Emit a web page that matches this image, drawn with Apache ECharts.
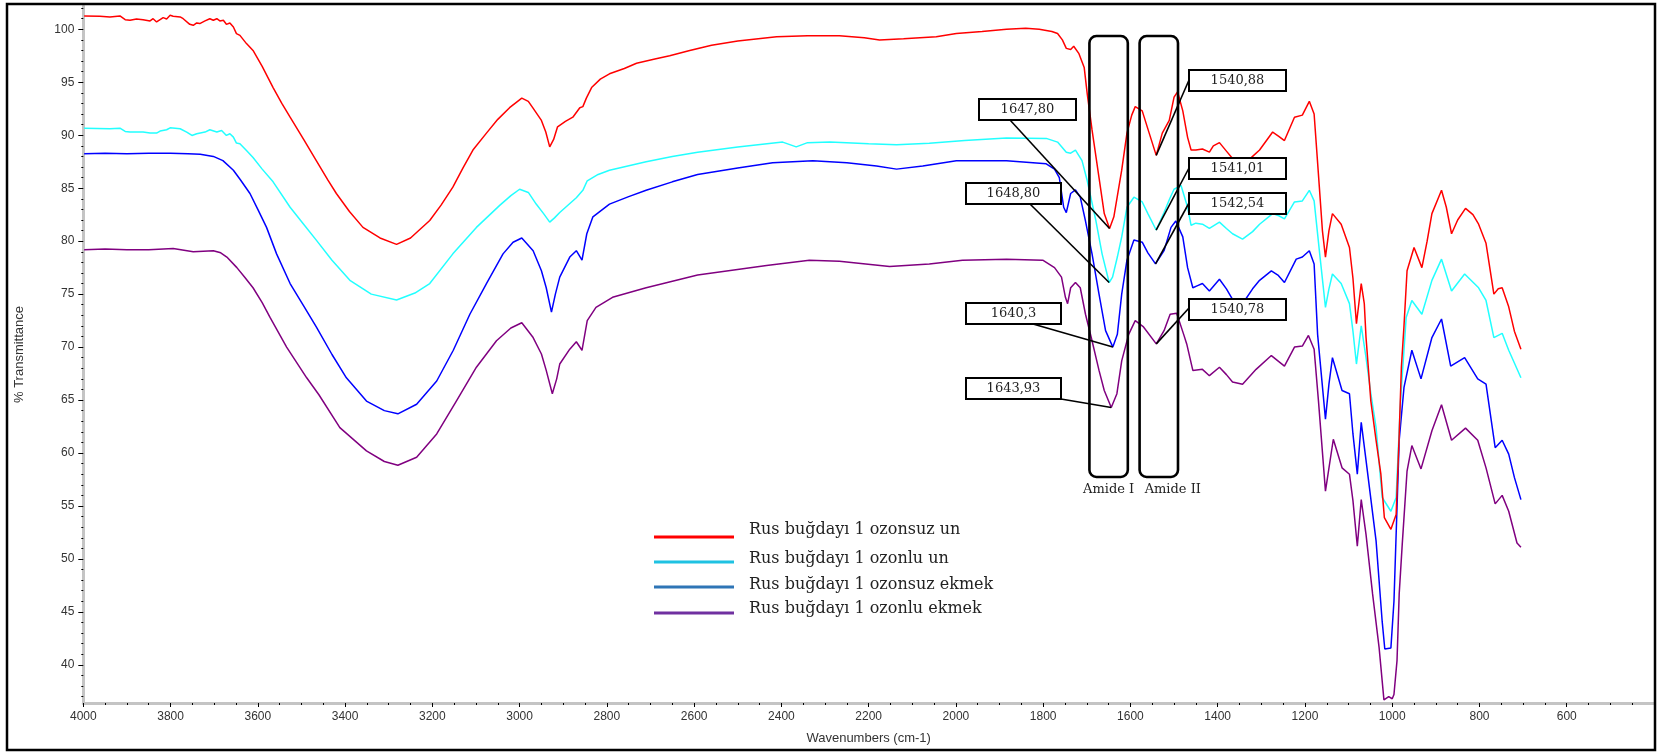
<!DOCTYPE html>
<html>
<head>
<meta charset="utf-8">
<script src="https://cdn.jsdelivr.net/npm/echarts@6/dist/echarts.min.js"></script>
<style>
  html, body { margin: 0; padding: 0; background: #fff; }
  #chart { width: 1657px; height: 753px; }
</style>
</head>
<body>
<div id="chart"></div>
<script>
// FTIR spectra: [wavenumber (cm-1), % transmittance]
const seriesNames = [
  'Rus buğdayı 1 ozonsuz un',
  'Rus buğdayı 1 ozonlu un',
  'Rus buğdayı 1 ozonsuz ekmek',
  'Rus buğdayı 1 ozonlu ekmek'
];

const ozonsuzUn = [
  [3998,101.26],[3962,101.23],[3939,101.17],[3916,101.26],[3904,100.91],[3893,100.85],[3878,100.98],[3863,100.91],
  [3847,100.79],[3840,101.0],[3832,100.69],[3824,100.91],[3817,101.1],[3809,100.98],[3801,101.32],[3794,101.23],
  [3778,101.17],[3771,101.0],[3756,100.47],[3748,100.38],[3740,100.6],[3733,100.54],[3721,100.79],[3710,101.0],
  [3702,100.85],[3694,101.0],[3687,100.79],[3679,100.85],[3672,100.47],[3664,100.6],[3656,100.22],[3649,99.59],
  [3641,99.43],[3626,98.65],[3611,98.0],[3590,96.5],[3565,94.5],[3545,93.0],[3526,91.7],[3495,89.6],[3466,87.6],
  [3440,85.8],[3420,84.5],[3390,82.8],[3359,81.3],[3320,80.3],[3282,79.7],[3250,80.3],[3206,81.95],[3180,83.4],
  [3153,85.1],[3130,86.9],[3107,88.6],[3076,90.2],[3050,91.5],[3023,92.6],[2995,93.5],[2980,93.2],[2970,92.6],
  [2950,91.4],[2940,90.3],[2931,88.9],[2922,89.6],[2913,90.8],[2895,91.3],[2878,91.7],[2862,92.6],[2855,92.7],
  [2847,93.5],[2835,94.5],[2815,95.3],[2794,95.8],[2760,96.3],[2732,96.8],[2690,97.2],[2656,97.5],[2610,98.0],
  [2560,98.5],[2500,98.9],[2411,99.3],[2340,99.4],[2267,99.4],[2210,99.2],[2175,99.0],[2120,99.1],[2045,99.3],
  [1999,99.6],[1940,99.8],[1884,100.0],[1840,100.1],[1809,100.0],[1780,99.8],[1767,99.6],[1756,99.0],[1747,98.2],
  [1737,98.1],[1730,98.4],[1718,97.7],[1706,96.4],[1699,93.9],[1688,90.5],[1672,86.0],[1660,82.6],[1647.80,81.2],
  [1638,82.3],[1620,86.7],[1608,90.2],[1597,91.9],[1589,92.7],[1573,92.3],[1557,90.2],[1540.88,88.1],[1527,90.2],
  [1511,91.4],[1500,93.6],[1492,94.1],[1480,92.3],[1469,89.8],[1461,88.6],[1450,88.6],[1435,88.7],[1419,88.4],
  [1410,89.0],[1396,89.3],[1380,88.5],[1366,87.8],[1343,87.1],[1320,88.0],[1304,88.6],[1274,90.3],[1260,89.9],
  [1247,89.5],[1224,91.7],[1206,91.9],[1190,93.2],[1179,92.0],[1167,85.1],[1160,81.0],[1153,78.5],[1145,81.0],
  [1137,82.6],[1117,81.6],[1098,79.4],[1090,76.5],[1082,72.2],[1071,76.0],[1064,74.1],[1060,70.9],[1049,64.9],
  [1037,61.2],[1026,58.0],[1018,53.9],[1003,52.8],[991,54.2],[984,61.8],[979,68.1],[973,72.0],[966,77.2],
  [950,79.4],[932,77.5],[920,80.0],[909,82.6],[887,84.8],[876,83.2],[864,80.7],[850,82.0],[832,83.1],[815,82.5],
  [802,81.6],[785,79.8],[767,75.0],[757,75.5],[748,75.6],[733,73.8],[720,71.5],[705,69.8]
];

const ozonluUn = [
  [3998,90.67],[3939,90.61],[3916,90.67],[3904,90.36],[3893,90.3],[3863,90.3],[3847,90.2],[3832,90.2],[3824,90.39],
  [3809,90.52],[3801,90.7],[3778,90.61],[3763,90.3],[3751,89.98],[3740,90.14],[3721,90.3],[3710,90.52],[3694,90.3],
  [3683,90.45],[3672,89.98],[3664,90.14],[3656,89.82],[3649,89.26],[3641,89.2],[3626,88.56],[3611,87.9],[3590,86.8],
  [3565,85.6],[3526,83.2],[3495,81.6],[3466,80.1],[3430,78.2],[3389,76.3],[3340,75.0],[3282,74.45],[3240,75.1],
  [3206,76.0],[3153,78.8],[3099,81.3],[3045,83.4],[3020,84.3],[3000,84.9],[2980,84.6],[2962,83.5],[2945,82.6],
  [2931,81.8],[2920,82.2],[2908,82.7],[2870,84.1],[2855,84.8],[2845,85.7],[2820,86.3],[2794,86.7],[2710,87.5],
  [2650,88.0],[2592,88.4],[2500,88.9],[2397,89.35],[2366,88.9],[2340,89.3],[2289,89.35],[2200,89.2],[2136,89.1],
  [2061,89.25],[1980,89.5],[1884,89.75],[1793,89.7],[1767,89.35],[1747,88.4],[1737,88.3],[1726,88.6],[1711,87.6],
  [1699,85.7],[1679,81.9],[1665,78.8],[1648.80,76.1],[1641,76.6],[1630,78.5],[1620,80.4],[1608,83.2],[1592,84.15],
  [1573,83.7],[1560,82.6],[1541.01,81.05],[1523,82.7],[1510,84.0],[1500,84.9],[1484,85.25],[1469,83.2],[1461,81.5],
  [1450,81.7],[1435,81.6],[1419,81.2],[1396,81.8],[1380,81.2],[1366,80.7],[1343,80.2],[1320,80.9],[1304,81.6],
  [1274,82.6],[1260,82.4],[1247,82.1],[1224,83.7],[1206,83.8],[1190,84.8],[1179,83.8],[1167,79.1],[1153,73.75],
  [1145,75.5],[1137,76.9],[1117,76.0],[1098,74.1],[1090,71.5],[1082,68.4],[1071,72.0],[1060,69.0],[1049,65.6],
  [1037,62.4],[1023,55.8],[1003,54.5],[991,55.8],[981,64.9],[968,72.8],[955,74.4],[932,73.1],[909,76.3],[887,78.3],
  [864,75.3],[834,76.9],[802,75.6],[785,74.4],[767,70.9],[748,71.3],[733,69.7],[720,68.5],[705,67.1]
];

const ozonsuzEkmek = [
  [3998,88.25],[3950,88.3],[3900,88.25],[3850,88.3],[3800,88.3],[3760,88.25],[3732,88.2],[3702,88.0],[3680,87.6],
  [3656,86.7],[3640,85.8],[3618,84.5],[3600,83.0],[3580,81.3],[3557,78.8],[3526,76.0],[3495,73.9],[3466,71.9],
  [3430,69.3],[3397,67.1],[3351,64.9],[3310,64.0],[3279,63.7],[3236,64.6],[3190,66.8],[3152,69.7],[3114,73.1],
  [3076,76.0],[3038,78.8],[3015,79.9],[2995,80.3],[2969,79.1],[2950,77.2],[2939,75.6],[2927,73.3],[2918,75.0],
  [2908,76.6],[2885,78.5],[2870,79.1],[2857,78.2],[2846,80.7],[2832,82.3],[2794,83.5],[2750,84.2],[2710,84.8],
  [2650,85.6],[2592,86.3],[2500,86.9],[2420,87.4],[2328,87.6],[2250,87.4],[2182,87.1],[2136,86.8],[2076,87.1],
  [1999,87.6],[1884,87.6],[1793,87.3],[1774,86.8],[1763,86.0],[1753,83.2],[1747,82.7],[1737,84.5],[1726,84.85],
  [1715,84.15],[1703,81.9],[1688,78.8],[1672,75.0],[1657,71.55],[1640.3,70.0],[1630,71.2],[1620,75.0],[1608,78.2],
  [1592,80.1],[1573,79.9],[1560,78.9],[1542.54,77.85],[1523,79.1],[1507,81.3],[1496,81.9],[1480,80.4],[1469,77.5],
  [1457,75.6],[1446,75.8],[1435,76.0],[1419,75.3],[1396,76.4],[1380,75.5],[1366,74.5],[1338,74.4],[1320,75.5],
  [1304,76.3],[1277,77.2],[1262,76.8],[1247,76.1],[1220,78.3],[1206,78.5],[1190,79.1],[1179,77.85],[1171,71.2],
  [1153,63.2],[1145,66.5],[1137,69.0],[1115,65.9],[1098,65.6],[1090,61.8],[1080,58.0],[1071,62.9],[1060,59.3],
  [1037,51.7],[1023,44.1],[1017,41.5],[1003,41.6],[996,46.0],[984,61.2],[973,66.2],[955,69.7],[934,67.0],
  [909,70.9],[887,72.65],[866,68.2],[834,69.0],[804,67.0],[785,66.5],[764,60.5],[748,61.2],[733,59.9],[720,57.7],
  [705,55.6]
];

const ozonluEkmek = [
  [3998,79.2],[3950,79.25],[3900,79.2],[3850,79.2],[3794,79.3],[3748,79.0],[3702,79.1],[3685,78.9],[3671,78.5],
  [3648,77.5],[3630,76.6],[3611,75.6],[3590,74.2],[3572,72.8],[3534,70.0],[3488,67.1],[3460,65.5],[3412,62.4],
  [3351,60.2],[3310,59.2],[3279,58.85],[3236,59.6],[3190,61.8],[3145,64.9],[3099,68.1],[3053,70.6],[3020,71.8],
  [2995,72.3],[2969,70.9],[2950,69.35],[2939,67.8],[2925,65.6],[2915,67.0],[2908,68.4],[2885,69.8],[2870,70.5],
  [2857,69.7],[2845,72.5],[2825,73.75],[2787,74.7],[2710,75.6],[2592,76.8],[2434,77.7],[2336,78.2],[2267,78.1],
  [2152,77.6],[2061,77.85],[1985,78.2],[1884,78.3],[1801,78.2],[1774,77.5],[1758,76.6],[1749,74.7],[1744,74.1],
  [1737,75.6],[1726,76.1],[1715,75.6],[1703,73.1],[1688,70.6],[1672,67.8],[1660,65.9],[1643.93,64.3],[1631,65.6],
  [1620,68.7],[1604,71.2],[1589,72.5],[1570,71.9],[1540.78,70.3],[1523,71.55],[1509,73.1],[1494,73.2],[1478,71.2],
  [1471,70.3],[1457,67.8],[1435,67.9],[1419,67.3],[1396,68.1],[1380,67.4],[1366,66.7],[1343,66.5],[1312,67.9],
  [1277,69.2],[1262,68.7],[1247,68.2],[1224,70.0],[1206,70.1],[1192,71.1],[1179,69.8],[1169,64.9],[1153,56.4],
  [1135,61.3],[1115,58.6],[1098,58.0],[1090,55.5],[1080,51.2],[1071,55.6],[1060,52.3],[1045,46.7],[1030,41.6],
  [1019,36.7],[1008,37.0],[1000,36.8],[996,37.2],[989,40.4],[984,46.7],[977,51.4],[966,58.3],[955,60.7],[934,58.5],
  [909,62.1],[887,64.55],[864,61.2],[832,62.35],[804,61.2],[785,58.6],[764,55.2],[748,56.0],[733,54.5],[714,51.5],
  [705,51.1]
];

const spectra = [ozonsuzUn, ozonluUn, ozonsuzEkmek, ozonluEkmek];

// Axis ticks
const yTickValues = [40, 45, 50, 55, 60, 65, 70, 75, 80, 85, 90, 95, 100];
const yMinorTickValues = [37,38,39,41,42,43,44,46,47,48,49,51,52,53,54,56,57,58,59,61,62,63,64,66,67,68,69,
  71,72,73,74,76,77,78,79,81,82,83,84,86,87,88,89,91,92,93,94,96,97,98,99,101,102];

// Peak annotations (label text, wavenumber, spectrum index)
const peakLabels = ['1647,80', '1648,80', '1640,3', '1643,93', '1540,88', '1541,01', '1542,54', '1540,78'];
const peakWavenumbers = [1647.80, 1648.80, 1640.3, 1643.93, 1540.88, 1541.01, 1542.54, 1540.78];
const peakSeries = [0, 1, 2, 3, 0, 1, 2, 3];

// Amide bands (wavenumber ranges)
const amideNames = ['Amide I', 'Amide II'];
const amideRanges = [[1694, 1606], [1579, 1491]];

// ---- styles / layout ----
const lineColors = ['#ff0000', '#22ffff', '#0000ff', '#800080'];
const legendColors = ['#ff0000', '#1fc2e2', '#2e75b6', '#7030a0'];
const serifFont = '"DejaVu Serif", "Liberation Serif", serif';
const sansFont = '"Liberation Sans", Arial, sans-serif';

// box: [left, top, width, height, anchorX, anchorY]
const boxLayout = [
  [979, 99, 97, 21, 1010, 120],
  [966, 183, 95, 21, 1030, 204],
  [966, 303, 95, 21, 1033, 324],
  [966, 378, 95, 21, 1061, 399],
  [1189, 70, 97, 21, 1189, 80],
  [1189, 158, 97, 21, 1189, 168],
  [1189, 193, 97, 21, 1189, 203],
  [1189, 299, 97, 21, 1189, 308]
];
const legendLayout = { lineX1: 654, lineX2: 734, lineY: [537, 562, 587, 613], textX: 749, textY: [530, 559, 585, 609] };

const chart = echarts.init(document.getElementById('chart'), null, { renderer: 'canvas' });

const baseAxisLine = { show: true, lineStyle: { color: '#c4c4c4', width: 3 } };

chart.setOption({
  animation: false,
  backgroundColor: '#ffffff',
  textStyle: { fontFamily: sansFont },
  grid: { left: 83.3, right: 2.3, top: 6, bottom: 50 },
  xAxis: {
    type: 'value',
    min: 400, max: 4000, interval: 200, inverse: true,
    name: 'Wavenumbers (cm-1)', nameLocation: 'middle', nameGap: 29,
    nameTextStyle: { color: '#333', fontSize: 13, fontFamily: sansFont },
    axisLine: baseAxisLine,
    axisTick: { show: true, length: 4, lineStyle: { color: '#000', width: 1 } },
    minorTick: { show: true, splitNumber: 4, length: 2, lineStyle: { color: '#000', width: 1 } },
    splitLine: { show: false },
    axisLabel: {
      color: '#333', fontSize: 12, fontFamily: sansFont, margin: 8,
      showMinLabel: true, showMaxLabel: true,
      formatter: v => (v === 400 ? '' : String(v))
    }
  },
  yAxis: [
    {
      type: 'value', min: 36.4, max: 102.2, position: 'left',
      name: '% Transmittance', nameLocation: 'middle', nameGap: 57,
      nameTextStyle: { color: '#333', fontSize: 13, fontFamily: sansFont },
      axisLine: baseAxisLine,
      axisTick: { show: true, length: 5, customValues: yTickValues, lineStyle: { color: '#000', width: 1 } },
      axisLabel: { color: '#333', fontSize: 12, fontFamily: sansFont, margin: 9, customValues: yTickValues },
      splitLine: { show: false }
    },
    {
      type: 'value', min: 36.4, max: 102.2, position: 'left',
      axisLine: { show: false },
      axisTick: { show: true, length: 2, customValues: yMinorTickValues, lineStyle: { color: '#000', width: 1 } },
      axisLabel: { show: false },
      splitLine: { show: false }
    }
  ],
  series: spectra.map((data, i) => ({
    name: seriesNames[i],
    type: 'line',
    data: data,
    xAxisIndex: 0,
    yAxisIndex: 0,
    showSymbol: false,
    silent: true,
    lineStyle: { color: lineColors[i], width: 1.5 },
    z: 2 + (3 - i)
  }))
});

// ---- annotations built on the chart's own scales ----
function toPx(wn, t) {
  return chart.convertToPixel({ xAxisIndex: 0, yAxisIndex: 0 }, [wn, t]);
}
function valueAt(seriesIdx, wn) {
  const pt = spectra[seriesIdx].find(p => p[0] === wn);
  return pt ? pt[1] : null;
}

const graphics = [];

// outer frame
graphics.push({
  type: 'rect', z: 100, silent: true,
  shape: { x: 7, y: 4, width: 1648, height: 746 },
  style: { fill: 'none', stroke: '#000', lineWidth: 2.5 }
});

// amide band outlines
const bandTop = 36, bandBottom = 477;
amideNames.forEach((name, i) => {
  const xa = toPx(amideRanges[i][0], 50)[0];
  const xb = toPx(amideRanges[i][1], 50)[0];
  graphics.push({
    type: 'rect', z: 60, silent: true,
    shape: { x: xa, y: bandTop, width: xb - xa, height: bandBottom - bandTop, r: 7 },
    style: { fill: 'none', stroke: '#000', lineWidth: 2.6 }
  });
  graphics.push({
    type: 'text', z: 60, silent: true,
    x: (xa + xb) / 2 + (i === 1 ? 14 : 0), y: 490,
    style: { text: name, font: '13px ' + serifFont, fill: '#222', align: 'center', verticalAlign: 'middle' }
  });
});

// peak labels with leader lines
peakLabels.forEach((label, i) => {
  const [bx, by, bw, bh, ax, ay] = boxLayout[i];
  const t = valueAt(peakSeries[i], peakWavenumbers[i]);
  const p = toPx(peakWavenumbers[i], t);
  graphics.push({
    type: 'line', z: 70, silent: true,
    shape: { x1: ax, y1: ay, x2: p[0], y2: p[1] },
    style: { stroke: '#000', lineWidth: 1.6 }
  });
  graphics.push({
    type: 'rect', z: 71, silent: true,
    shape: { x: bx, y: by, width: bw, height: bh },
    style: { fill: '#fff', stroke: '#000', lineWidth: 2 }
  });
  graphics.push({
    type: 'text', z: 72, silent: true,
    x: bx + bw / 2, y: by + bh / 2 + 0.5,
    style: { text: label, font: '13px ' + serifFont, fill: '#222', align: 'center', verticalAlign: 'middle' }
  });
});

// hand-placed legend
seriesNames.forEach((name, i) => {
  graphics.push({
    type: 'line', z: 80, silent: true,
    shape: { x1: legendLayout.lineX1, y1: legendLayout.lineY[i], x2: legendLayout.lineX2, y2: legendLayout.lineY[i] },
    style: { stroke: legendColors[i], lineWidth: 3 }
  });
  graphics.push({
    type: 'text', z: 80, silent: true,
    x: legendLayout.textX, y: legendLayout.textY[i],
    style: { text: name, font: '16px ' + serifFont, fill: '#222', align: 'left', verticalAlign: 'middle' }
  });
});

chart.setOption({ graphic: graphics });
</script>
</body>
</html>
